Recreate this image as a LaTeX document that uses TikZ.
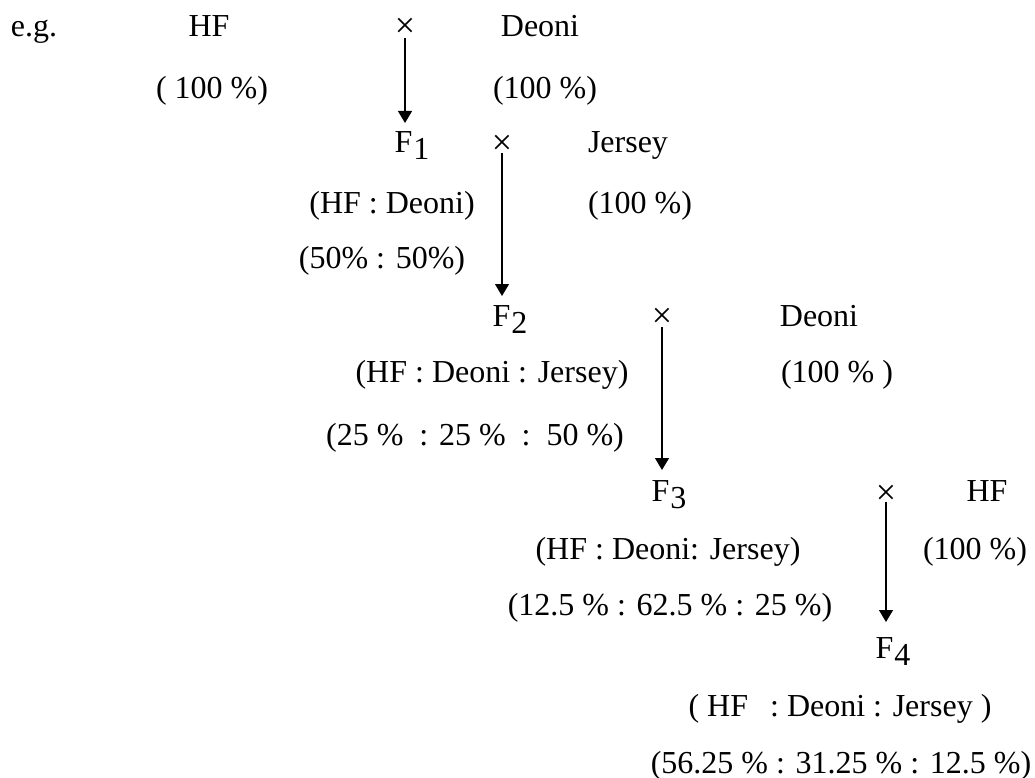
\documentclass[tikz,border=0pt]{standalone}
\usepackage{fontspec}
\setmainfont{Liberation Serif}
\usetikzlibrary{arrows.meta}
\newcommand{\Fsub}[1]{F\kern1pt\raisebox{-7pt}{#1}}
\begin{document}
\begin{tikzpicture}[x=1pt,y=-1pt,
  txt/.style={inner sep=0pt,anchor=base,font=\fontsize{32}{38}\selectfont},
  cross/.style={inner sep=0pt,anchor=center,font=\fontsize{36}{40}\selectfont},
  arr/.style={line width=1.1pt,-{Triangle[length=12pt,width=14pt]}}]
\useasboundingbox (0,0) rectangle (1035,778);
% row 1
\node[txt] (eg) at (34,37) {e.g.};
\node[txt] (hf0) at (209,37) {HF};
\node[cross] (x1) at (405,28) {×};
\node[txt] (de0) at (540,37) {Deoni};
\node[txt] (hf0p) at (212,99) {( 100 \%)};
\node[txt] (de0p) at (545,99) {(100 \%)};
% F1
\node[txt] (f1) at (412,153) {\Fsub{1}};
\node[cross] (x2) at (502,145) {×};
\node[txt] (je1) at (628,153) {Jersey};
\node[txt] (f1a) at (392,213) {(HF : Deoni)};
\node[txt] (je1p) at (640,213) {(100 \%)};
\node[txt] (f1b) at (382,268) {(50\% : 50\%)};
% F2
\node[txt] (f2) at (510,326) {\Fsub{2}};
\node[cross] (x3) at (662,318) {×};
\node[txt] (de2) at (819,326) {Deoni};
\node[txt] (f2a) at (492,382) {(HF : Deoni : Jersey)};
\node[txt] (de2p) at (837,382) {(100 \%~)};
\node[txt] (f2b) at (475,445) {(25 \%~~: 25 \%~~:~~50 \%)};
% F3
\node[txt] (f3) at (669,501) {\Fsub{3}};
\node[cross] (x4) at (886,495) {×};
\node[txt] (hf3) at (987,501) {HF};
\node[txt] (f3a) at (668,559) {(HF : Deoni: Jersey)};
\node[txt] (hf3p) at (975,559) {(100 \%)};
\node[txt] (f3b) at (670,615) {(12.5 \% : 62.5 \% : 25 \%)};
% F4
\node[txt] (f4) at (893,658) {\Fsub{4}};
\node[txt] (f4a) at (840,716) {( HF\hspace{22pt}: Deoni : Jersey )};
\node[txt] (f4b) at (841,773) {(56.25 \% : 31.25 \% : 12.5 \%)};
% arrows
\draw[arr,shorten <=10pt,shorten >=30pt] (x1.center) -- (x1.center |- f1.base);
\draw[arr,shorten <=8pt,shorten >=30pt] (x2.center) -- (x2.center |- f2.base);
\draw[arr,shorten <=9pt,shorten >=31pt] (x3.center) -- (x3.center |- f3.base);
\draw[arr,shorten <=7pt,shorten >=36pt] (x4.center) -- (x4.center |- f4.base);
\end{tikzpicture}
\end{document}
